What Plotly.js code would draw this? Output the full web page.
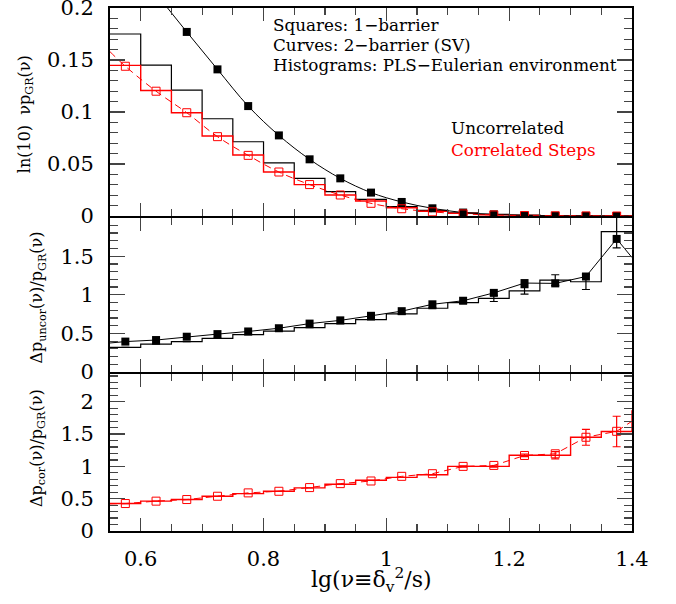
<!DOCTYPE html>
<html><head><meta charset="utf-8">
<script src="https://cdn.plot.ly/plotly-3.0.1.min.js"></script>
<style>html,body{margin:0;padding:0;background:#fff}</style>
</head><body>
<div id="chart" style="width:676px;height:604px"></div>
<script>
// ---- data ----
const binLo   = [0.55,0.60,0.65,0.70,0.75,0.80,0.85,0.90,0.95,1.00,1.05,1.10,1.15,1.20,1.25,1.30,1.35];
const binHi   = [0.60,0.65,0.70,0.75,0.80,0.85,0.90,0.95,1.00,1.05,1.10,1.15,1.20,1.25,1.30,1.35,1.40];
const centers = [0.575,0.625,0.675,0.725,0.775,0.825,0.875,0.925,0.975,1.025,1.075,1.125,1.175,1.225,1.275,1.325,1.375];

// top panel: ln(10) nu p_GR(nu)
const topUncorHist = [0.175,0.145,0.121,0.0935,0.0714,0.051,0.0362,0.0234,0.016,0.009,0.0055,0.003,0.0015,0.0008,0.0003,0.0001,0];
const topCorHist   = [0.1448,0.1207,0.0993,0.0769,0.0586,0.0423,0.0302,0.0202,0.0144,0.008,0.0045,0.0025,0.0012,0.0005,0.0002,0.0001,0];
const topUncorSq   = [0.252,0.214,0.177,0.141,0.1057,0.0775,0.0545,0.0362,0.0225,0.0135,0.0074,0.0033,0.0016,0.0006,0.0002,0.0001,0];
const topCorSq     = [0.144,0.120,0.0993,0.0763,0.0583,0.0423,0.0302,0.0202,0.0122,0.007,0.004,0.002,0.001,0.0004,0.0002,0.0001,0];
const topUncorCurveX = [0.575,0.625,0.675,0.725,0.775,0.825,0.875,0.925,0.975,1.025,1.075,1.125,1.175,1.225,1.275,1.325,1.375,1.40];
const topUncorCurveY = [0.252,0.214,0.177,0.141,0.1057,0.0775,0.0545,0.0362,0.0225,0.0135,0.0074,0.0033,0.0016,0.0006,0.0002,0.0001,0,0];
const topCorCurveX = [0.55,0.575,0.625,0.675,0.725,0.775,0.825,0.875,0.925,0.975,1.025,1.075,1.125,1.175,1.225,1.275,1.325,1.375,1.40];
const topCorCurveY = [0.158,0.144,0.120,0.0993,0.0763,0.0583,0.0423,0.0302,0.0202,0.0122,0.007,0.004,0.002,0.001,0.0004,0.0002,0.0001,0,0];

// middle panel: uncorrelated ratio
const midHist = [0.318,0.36,0.394,0.436,0.483,0.529,0.576,0.627,0.678,0.754,0.826,0.898,0.953,1.05,1.19,1.169,1.818];
const midErr  = [0,0,0,0,0,0,0,0,0.003,0.004,0.006,0.01,0.04,0.042,0.07,0.1,0.21];
const midSq   = [0.394,0.414,0.457,0.491,0.525,0.567,0.627,0.669,0.728,0.788,0.877,0.923,1.025,1.152,1.148,1.237,1.724];
const midCurveX = [0.55,0.575,0.625,0.675,0.725,0.775,0.825,0.875,0.925,0.975,1.025,1.075,1.125,1.175,1.225,1.275,1.325,1.375,1.40];
const midCurveY = [0.376,0.394,0.414,0.457,0.491,0.525,0.567,0.627,0.669,0.728,0.788,0.877,0.923,1.025,1.152,1.148,1.237,1.724,1.483];

// bottom panel: correlated ratio (last bin lies just beyond the axis)
const botBinLo = [0.55,0.60,0.65,0.70,0.75,0.80,0.85,0.90,0.95,1.00,1.05,1.10,1.15,1.20,1.25,1.30,1.35,1.40];
const botHist = [0.425,0.462,0.487,0.538,0.579,0.615,0.667,0.723,0.785,0.83,0.87,1.0,1.0,1.172,1.172,1.45,1.54,1.86];
const botErr  = [0,0,0,0,0,0,0,0,0,0,0,0.01,0.01,0.02,0.057,0.123,0.236];
const botSq   = [0.425,0.462,0.487,0.538,0.59,0.615,0.672,0.733,0.774,0.846,0.887,1.0,1.015,1.169,1.195,1.451,1.543];
const botCurveX = [0.55,0.575,0.625,0.675,0.725,0.775,0.825,0.875,0.925,0.975,1.025,1.075,1.125,1.175,1.225,1.275,1.325,1.375,1.40];
const botCurveY = [0.42,0.425,0.462,0.487,0.538,0.59,0.615,0.672,0.733,0.774,0.846,0.887,1.0,1.015,1.169,1.195,1.451,1.543,1.7];

// ---- helpers ----
function stepX(lo, hi){ return lo.concat([hi[hi.length-1]]); }
function stepY(v){ return v.concat([v[v.length-1]]); }
const RED = '#ff0000';
const FONT = 'DejaVu Serif, serif';

const traces = [
  // top panel
  {x: stepX(binLo,binHi), y: stepY(topUncorHist), xaxis:'x3', yaxis:'y3', mode:'lines', line:{shape:'hv', color:'#000', width:1.2}},
  {x: stepX(binLo,binHi), y: stepY(topCorHist), xaxis:'x3', yaxis:'y3', mode:'lines', line:{shape:'hv', color:RED, width:1.4}},
  {x: topUncorCurveX, y: topUncorCurveY, xaxis:'x3', yaxis:'y3', mode:'lines', line:{shape:'spline', color:'#000', width:1}},
  {x: topCorCurveX, y: topCorCurveY, xaxis:'x3', yaxis:'y3', mode:'lines', line:{shape:'spline', color:RED, width:1, dash:'7px,5px'}},
  {x: centers, y: topUncorSq, xaxis:'x3', yaxis:'y3', mode:'markers', marker:{symbol:'square', size:8, color:'#000'}},
  {x: centers, y: topCorSq, xaxis:'x3', yaxis:'y3', mode:'markers', marker:{symbol:'square-open', size:8, color:RED, line:{width:1}}},
  // middle panel
  {x: stepX(binLo,binHi), y: stepY(midHist), xaxis:'x2', yaxis:'y2', mode:'lines', line:{shape:'hv', color:'#000', width:1.2}},
  {x: centers, y: midHist, xaxis:'x2', yaxis:'y2', mode:'markers', marker:{size:1, color:'rgba(0,0,0,0)'},
   error_y:{type:'data', array: midErr, visible:true, color:'#000', thickness:1.2, width:4}},
  {x: midCurveX, y: midCurveY, xaxis:'x2', yaxis:'y2', mode:'lines', line:{color:'#000', width:1}},
  {x: centers, y: midSq, xaxis:'x2', yaxis:'y2', mode:'markers', marker:{symbol:'square', size:8, color:'#000'}},
  // bottom panel
  {x: stepX(botBinLo,[1.45]), y: stepY(botHist), xaxis:'x', yaxis:'y', mode:'lines', line:{shape:'hv', color:RED, width:1.4}},
  {x: centers, y: botHist.slice(0,17), xaxis:'x', yaxis:'y', mode:'markers', marker:{size:1, color:'rgba(0,0,0,0)'},
   error_y:{type:'data', array: botErr, visible:true, color:RED, thickness:1.2, width:4}},
  {x: botCurveX, y: botCurveY, xaxis:'x', yaxis:'y', mode:'lines', line:{color:RED, width:1, dash:'7px,5px'}},
  {x: centers, y: botSq, xaxis:'x', yaxis:'y', mode:'markers', marker:{symbol:'square-open', size:8, color:RED, line:{width:1}}}
];

function xax(anchor, labels){
  return {
    anchor: anchor, range:[0.55,1.4], showline:true, linewidth:2, linecolor:'#000', mirror:'allticks',
    ticks:'inside', ticklen:13, tickwidth:1.2, tickcolor:'#444', tick0:0, dtick:0.2,
    minor:{ticks:'inside', ticklen:7, tickwidth:1.2, tickcolor:'#444', dtick:0.05, tick0:0},
    showgrid:false, zeroline:false, showticklabels: labels, ticklabelstandoff: 8,
    tickfont:{family:FONT, size:21, color:'#000'}
  };
}
function yax(anchor, dom, rng, dt, mdt){
  return {
    anchor: anchor, domain: dom, range: rng, showline:true, linewidth:2, linecolor:'#000', mirror:'allticks',
    ticks:'inside', ticklen:15, tickwidth:1.2, tickcolor:'#444', tick0:0, dtick:dt,
    minor:{ticks:'inside', ticklen:8, tickwidth:1.2, tickcolor:'#444', dtick:mdt, tick0:0},
    showgrid:false, zeroline:false, ticklabelstandoff: 10, ticklabeloverflow:'allow',
    tickfont:{family:FONT, size:21, color:'#000'}
  };
}

const H = 523;
const d1 = 158/H, d2 = 314/H, g = 1/H;
const layout = {
  width:676, height:604, showlegend:false,
  paper_bgcolor:'#fff', plot_bgcolor:'#fff',
  margin:{l:110, r:44, t:8, b:73},
  xaxis: xax('y', true),
  xaxis2: Object.assign(xax('y2', false), {matches:'x'}),
  xaxis3: Object.assign(xax('y3', false), {matches:'x'}),
  yaxis: yax('x', [0, d1 - g], [0, 2.43], 0.5, 0.1),
  yaxis2: yax('x2', [d1 + g, d2 - g], [0, 1.995], 0.5, 0.1),
  yaxis3: yax('x3', [d2 + g, 1], [0, 0.20001], 0.05, 0.01),
  annotations: [
    {xref:'paper', yref:'paper', x:0.3084, y:0.9675, xanchor:'left', yanchor:'middle', showarrow:false,
     text:'Squares: 1\u2212barrier', font:{family:FONT, size:16.8, color:'#000'}},
    {xref:'paper', yref:'paper', x:0.3084, y:0.9293, xanchor:'left', yanchor:'middle', showarrow:false,
     text:'Curves: 2\u2212barrier (SV)', font:{family:FONT, size:16.8, color:'#000'}},
    {xref:'paper', yref:'paper', x:0.3084, y:0.891, xanchor:'left', yanchor:'middle', showarrow:false,
     text:'Histograms: PLS\u2212Eulerian environment', font:{family:FONT, size:16.8, color:'#000'}},
    {xref:'paper', yref:'paper', x:0.6494, y:0.7706, xanchor:'left', yanchor:'middle', showarrow:false,
     text:'Uncorrelated', font:{family:FONT, size:16.8, color:'#000'}},
    {xref:'paper', yref:'paper', x:0.6494, y:0.7285, xanchor:'left', yanchor:'middle', showarrow:false,
     text:'Correlated Steps', font:{family:FONT, size:16.8, color:RED}},
    {xref:'paper', yref:'paper', x:-0.1628, y:0.797, xanchor:'center', yanchor:'middle', showarrow:false, textangle:-90,
     text:'ln(10)  \u03bdp<sub>GR</sub>(\u03bd)', font:{family:FONT, size:16, color:'#000'}},
    {xref:'paper', yref:'paper', x:-0.138, y:0.4465, xanchor:'center', yanchor:'middle', showarrow:false, textangle:-90,
     text:'\u0394p<sub>uncor</sub>(\u03bd)/p<sub>GR</sub>(\u03bd)', font:{family:FONT, size:16, color:'#000'}},
    {xref:'paper', yref:'paper', x:-0.138, y:0.1587, xanchor:'center', yanchor:'middle', showarrow:false, textangle:-90,
     text:'\u0394p<sub>cor</sub>(\u03bd)/p<sub>GR</sub>(\u03bd)', font:{family:FONT, size:16, color:'#000'}},
    {xref:'paper', yref:'paper', x:0.5, y:-0.0937, xanchor:'center', yanchor:'middle', showarrow:false,
     text:'lg(\u03bd\u2261\u03b4<sub>v</sub><sup>2</sup>/s)', font:{family:FONT, size:22, color:'#000'}}
  ]
};
Plotly.newPlot('chart', traces, layout, {staticPlot:true, displayModeBar:false});
</script>
</body></html>
